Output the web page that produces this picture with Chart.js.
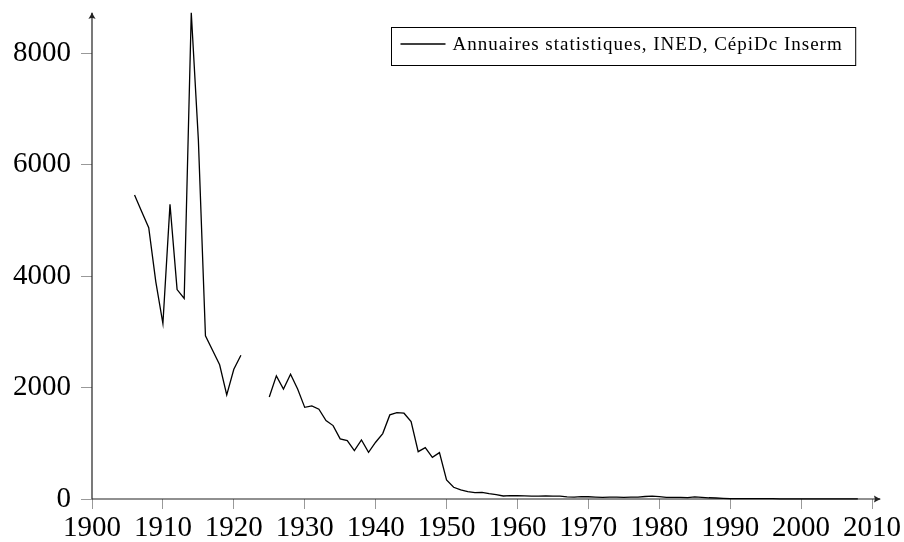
<!DOCTYPE html>
<html>
<head>
<meta charset="utf-8">
<script src="https://cdn.jsdelivr.net/npm/chart.js@4"></script>
<style>
  html, body { margin: 0; padding: 0; background: #fff; }
</style>
</head>
<body>
<canvas id="chart" width="904" height="542"></canvas>
<script>
// series: yearly counts, null = no data (1922-1924)
const years = [
  1906, 1907, 1908, 1909, 1910, 1911, 1912, 1913, 1914, 1915,
  1916, 1917, 1918, 1919, 1920, 1921, 1922, 1923, 1924, 1925,
  1926, 1927, 1928, 1929, 1930, 1931, 1932, 1933, 1934, 1935,
  1936, 1937, 1938, 1939, 1940, 1941, 1942, 1943, 1944, 1945,
  1946, 1947, 1948, 1949, 1950, 1951, 1952, 1953, 1954, 1955,
  1956, 1957, 1958, 1959, 1960, 1961, 1962, 1963, 1964, 1965,
  1966, 1967, 1968, 1969, 1970, 1971, 1972, 1973, 1974, 1975,
  1976, 1977, 1978, 1979, 1980, 1981, 1982, 1983, 1984, 1985,
  1986, 1987, 1988, 1989, 1990, 1991, 1992, 1993, 1994, 1995,
  1996, 1997, 1998, 1999, 2000, 2001, 2002, 2003, 2004, 2005,
  2006, 2007, 2008
];
const deaths = [
  5460, 5160, 4870, 3900, 3150, 5290, 3760, 3600, 8730, 6450,
  2930, 2670, 2410, 1870, 2330, 2580, null, null, null, 1830,
  2210, 1975, 2240, 1975, 1645, 1670, 1612, 1408, 1318, 1079,
  1048, 868, 1061, 839, 1019, 1175, 1510, 1550, 1540, 1390,
  850, 922, 749, 832, 342, 210, 162, 131, 113, 120,
  95, 80, 54, 62, 58, 55, 52, 50, 55, 52,
  50, 38, 35, 42, 40, 35, 28, 32, 35, 30,
  32, 35, 45, 50, 42, 30, 28, 30, 25, 38,
  30, 22, 18, 12, 8, 7, 6, 6, 5, 5,
  5, 4, 4, 4, 4, 3, 3, 3, 3, 3,
  3, 3, 3
];
const seriesLabel = 'Annuaires statistiques, INED, CépiDc Inserm';
const xTicks = [1900, 1910, 1920, 1930, 1940, 1950, 1960, 1970, 1980, 1990, 2000, 2010];
const yTicks = [0, 2000, 4000, 6000, 8000];

const serif = "'Liberation Serif', 'DejaVu Serif', serif";

// axis lines with arrow heads, drawn like pgfplots "axis lines = left"
function arrowHead(ctx, x, y, dir) {
  ctx.save();
  ctx.translate(x, y);
  ctx.rotate(dir);
  ctx.beginPath();
  ctx.moveTo(0, 0);
  ctx.quadraticCurveTo(-3, -1, -7, -3.6);
  ctx.quadraticCurveTo(-5.2, 0, -7, 3.6);
  ctx.quadraticCurveTo(-3, 1, 0, 0);
  ctx.closePath();
  ctx.fill();
  ctx.restore();
}

const axisLines = {
  id: 'axisLines',
  beforeDatasetsDraw(chart) {
    const { ctx, chartArea } = chart;
    const { left, right, top, bottom } = chartArea;
    ctx.save();
    ctx.strokeStyle = '#222';
    ctx.fillStyle = '#222';
    ctx.lineWidth = 1.2;
    ctx.beginPath();
    ctx.moveTo(left, bottom);
    ctx.lineTo(right + 8, bottom);
    ctx.moveTo(left, bottom);
    ctx.lineTo(left, top - 7);
    ctx.stroke();
    arrowHead(ctx, right + 9, bottom, 0);
    arrowHead(ctx, left, top - 8, -Math.PI / 2);
    ctx.restore();
  }
};

const boxedLegend = {
  id: 'boxedLegend',
  afterDraw(chart) {
    const { ctx, chartArea } = chart;
    const ds = chart.data.datasets[0];
    ctx.save();
    ctx.font = "19px " + serif;
    ctx.letterSpacing = '1px';
    const tw = ctx.measureText(ds.label).width;
    const boxW = 9 + 45 + 7 + tw + 13;
    const boxH = 38;
    const bx = Math.round(chartArea.right - 17 - boxW) + 0.5;
    const by = Math.round(chartArea.top + 7) + 0.5;
    ctx.fillStyle = '#fff';
    ctx.fillRect(bx, by, boxW, boxH);
    ctx.strokeStyle = '#000';
    ctx.lineWidth = 1;
    ctx.strokeRect(bx, by, boxW, boxH);
    ctx.strokeStyle = ds.borderColor;
    ctx.lineWidth = ds.borderWidth;
    ctx.beginPath();
    ctx.moveTo(bx + 9, by + 16.5);
    ctx.lineTo(bx + 54, by + 16.5);
    ctx.stroke();
    ctx.fillStyle = '#000';
    ctx.textBaseline = 'alphabetic';
    ctx.fillText(ds.label, bx + 61, by + 22);
    ctx.restore();
  }
};

new Chart(document.getElementById('chart').getContext('2d'), {
  type: 'line',
  data: {
    datasets: [{
      label: seriesLabel,
      data: years.map((yr, i) => ({ x: yr, y: deaths[i] })),
      borderColor: '#000',
      borderWidth: 1.3,
      pointRadius: 0,
      tension: 0,
      spanGaps: false,
      clip: false
    }]
  },
  options: {
    responsive: false,
    animation: false,
    layout: { padding: { top: 20, right: 32, left: 0, bottom: 0 } },
    plugins: {
      legend: { display: false },
      tooltip: { enabled: false }
    },
    scales: {
      x: {
        type: 'linear',
        min: 1900,
        max: 2010,
        afterBuildTicks: s => { s.ticks = xTicks.map(v => ({ value: v })); },
        afterFit: s => { s.height = 43; s.paddingLeft = 0; s.paddingRight = 0; },
        border: { display: false },
        grid: { drawOnChartArea: false, drawTicks: true, tickLength: 10, tickColor: '#999', tickWidth: 1 },
        ticks: { color: '#000', padding: 2, maxRotation: 0, font: { family: serif, size: 29 }, callback: v => String(v) }
      },
      y: {
        min: 0,
        max: 8600,
        afterBuildTicks: s => { s.ticks = yTicks.map(v => ({ value: v })); },
        afterFit: s => { s.width = 92; s.paddingTop = 0; s.paddingBottom = 0; },
        border: { display: false },
        grid: { drawOnChartArea: false, drawTicks: true, tickLength: 11, tickColor: '#999', tickWidth: 1 },
        ticks: { color: '#000', padding: 10, font: { family: serif, size: 29 }, callback: v => String(v) }
      }
    }
  },
  plugins: [axisLines, boxedLegend]
});
</script>
</body>
</html>
